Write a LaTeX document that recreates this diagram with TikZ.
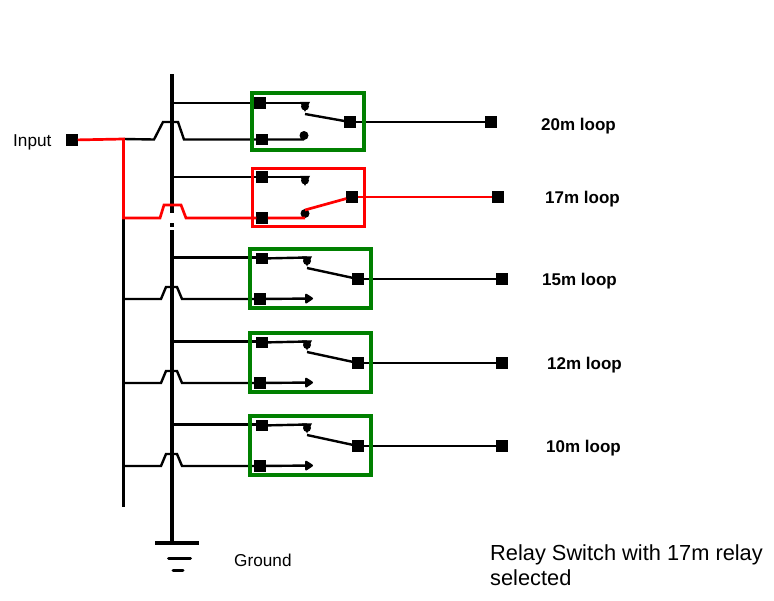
\documentclass[tikz,border=0pt]{standalone}
\usepackage{fontspec}
\setmainfont{Liberation Sans}
\usetikzlibrary{arrows.meta}
\definecolor{relgreen}{RGB}{0,128,0}
\definecolor{relred}{RGB}{255,0,0}
\tikzset{
  term/.style={fill=black,minimum size=11.5pt,inner sep=0pt,outer sep=0pt},
  wire/.style={line width=2.4pt,black},
  hotwire/.style={line width=2.7pt,relred},
  bus/.style={line width=3.2pt,black},
  okbox/.style={draw=relgreen,line width=4pt,inner sep=0pt,outer sep=0pt},
  selbox/.style={draw=relred,line width=3pt,inner sep=0pt,outer sep=0pt},
  blob/.style={circle,fill=black,minimum size=9pt,inner sep=0pt,outer sep=0pt},
  looplabel/.style={anchor=base west,inner sep=0pt,font=\bfseries\fontsize{17}{20}\selectfont},
  plainlabel/.style={anchor=base west,inner sep=0pt,font=\fontsize{17.2}{20}\selectfont},
  titlelabel/.style={anchor=base west,inner sep=0pt,font=\fontsize{21.8}{25}\selectfont},
  tipwire/.style={wire,-{Triangle[length=9pt,width=11pt,round]}},
  topct/.pic={\fill (-5,-1.2) -- (5,-1.2) -- (0,9) -- cycle; \fill (0,3.5) circle (4);}
}
\begin{document}
\begin{tikzpicture}[x=1pt,y=-1pt]
\useasboundingbox (0,0) rectangle (774,600);

% ---------- buses ----------
\coordinate (bustop) at (172,74);
\coordinate (busgapA) at (172,213);
\coordinate (busdotA) at (172,223);
\coordinate (busdotB) at (172,227);
\coordinate (busgapB) at (172,230);
\coordinate (busbot) at (172,542);
\draw[bus] (bustop) -- (busgapA);
\draw[bus] (busdotA) -- (busdotB);
\draw[bus] (busgapB) -- (busbot);

\coordinate (j1) at (123.5,139);
\coordinate (j2) at (123.5,218);
\coordinate (lbot) at (123.5,507);
\draw[bus] (j2) -- (lbot);

% ---------- input ----------
\node[plainlabel] (inlbl) at (13,146) {Input};
\node[term] (in) at (72,140) {};

% ---------- relay 1 (20m) ----------
\coordinate (t1) at (172,103);
\node[term] (r1t) at (260,103) {};
\node[term] (r1b) at (262,139.5) {};
\coordinate (r1c1) at (305,103);
\node[blob] (r1c2) at (304,135.5) {};
\coordinate (r1arm) at (305,114);
\node[term] (r1m) at (350,122) {};
\node[term] (o1) at (491,122) {};
\draw[wire] (t1) -- (r1t) -- (r1c1);
\pic at (r1c1) {topct};
\draw[wire] (j1) -- (154,139.5) -- (163,122) -- (178,122) -- (184,139.5) -- (r1b) -- (304,139.5);
\draw[wire] (r1arm) -- (r1m);
\draw[wire] (r1m) -- (o1);
\node[okbox,minimum width=112pt,minimum height=57pt] (box1) at (308,121.5) {};
\node[looplabel] (l1) at (541,130.5) {20m loop};

% ---------- relay 2 (17m, selected) ----------
\coordinate (t2) at (172,177);
\node[term] (r2t) at (262,177) {};
\coordinate (r2c1) at (305,177);
\node[term] (r2b) at (262,218) {};
\node[blob] (r2c2) at (305,213.5) {};
\coordinate (r2end) at (305,218);
\coordinate (r2arm) at (305,210);
\node[term] (r2m) at (352,197) {};
\node[term] (o2) at (498,197) {};
\draw[wire] (t2) -- (r2t) -- (r2c1);
\pic at (r2c1) {topct};
\draw[hotwire] (in) -- (j1) -- (j2) -- (160,218) -- (164,205) -- (181,205) -- (186,218) -- (r2b) -- (r2end);
\draw[hotwire] (r2arm) -- (r2m);
\draw[hotwire] (r2m) -- (o2);
\node[selbox,minimum width=112pt,minimum height=58pt] (box2) at (308,197) {};
\node[looplabel] (l2) at (545,203) {17m loop};

% ---------- relays 3..5 ----------
\foreach \i/\T/\lab/\lx in {3/249/15m/542, 4/333/12m/547, 5/416/10m/546}{
  \coordinate (t\i) at (172,{\T+8.5});
  \node[term] (r\i-t) at (262,{\T+9.5}) {};
  \coordinate (r\i-c1) at (307,{\T+8.5});
  \coordinate (r\i-l) at (123.5,{\T+50});
  \node[term] (r\i-b) at (260,{\T+50}) {};
  \coordinate (r\i-c2) at (313,{\T+49.5});
  \coordinate (r\i-arm) at (307,{\T+19});
  \node[term] (r\i-m) at (358,{\T+30}) {};
  \node[term] (o\i) at (502,{\T+30}) {};
  \draw[wire] (t\i) -- (t\i -| r\i-t.west);
  \draw[wire] (r\i-t) -- (r\i-c1);
  \pic at (r\i-c1) {topct};
  \draw[wire] (r\i-l) -- (161,{\T+50}) -- (166,{\T+38}) -- (177,{\T+38}) -- (182,{\T+50}) -- (r\i-b);
  \draw[tipwire] (r\i-b) -- (r\i-c2);
  \draw[wire] (r\i-arm) -- (r\i-m);
  \draw[wire] (r\i-m) -- (o\i);
  \node[okbox,minimum width=121pt,minimum height=59pt] (box\i) at (310.5,{\T+29.5}) {};
  \node[looplabel] (l\i) at (\lx,{\T+36.5}) {\lab\ loop};
}

% ---------- ground ----------
\coordinate (g1a) at (155,543);
\coordinate (g1b) at (199,543);
\coordinate (g2a) at (168.5,558);
\coordinate (g2b) at (190.5,558);
\coordinate (g3a) at (173,570);
\coordinate (g3b) at (183,570);
\draw[line width=3.5pt] (g1a) -- (g1b);
\draw[line width=3pt,line cap=round] (g2a) -- (g2b);
\draw[line width=3pt,line cap=round] (g3a) -- (g3b);
\node[plainlabel] (gnd) at (234,566) {Ground};

% ---------- title ----------
\node[titlelabel] (title1) at (490,560.5) {Relay Switch with 17m relay};
\node[titlelabel] (title2) at (490,585.5) {selected};
\end{tikzpicture}
\end{document}
